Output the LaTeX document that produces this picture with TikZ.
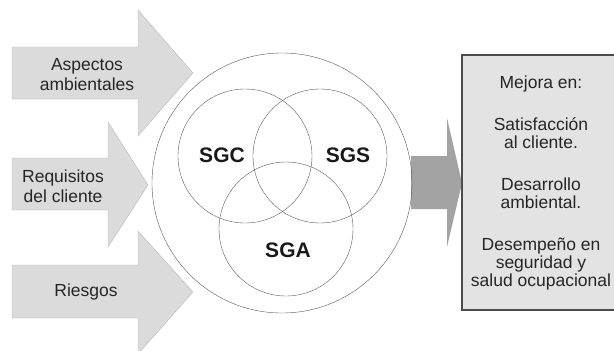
\documentclass[tikz,border=0pt]{standalone}
\usepackage{fontspec}
\setmainfont{Liberation Sans}
\begin{document}
\begin{tikzpicture}[x=1pt,y=-1pt,semithick]
\tikzstyle{input}=[fill=black!14,draw=black!28,thin]
\tikzstyle{inlabel}=[align=center,inner sep=0pt,text=black!85,font=\fontsize{17.5}{20}\selectfont]
\tikzstyle{venn}=[circle,draw=black!65,thin,inner sep=0pt,minimum size=134pt]
\tikzstyle{system}=[inner sep=0pt,text=black!90,font=\fontsize{21}{24}\selectfont\bfseries]
\tikzstyle{output}=[fill=black!36,draw=none]
\tikzstyle{result}=[rectangle,fill=black!11,draw=black!70,line width=1.2pt,minimum width=158pt,minimum height=255pt,align=center,text=black!85,font=\fontsize{17.5}{18}\selectfont]
\useasboundingbox (0,0) rectangle (614,351);
% input arrows
\filldraw[input] (12,47) -- (138,47) -- (138,10) -- (193,73) -- (138,136) -- (138,99) -- (12,99) -- cycle;
\filldraw[input] (12,158) -- (108,158) -- (108,122) -- (148,185) -- (108,247) -- (108,210) -- (12,210) -- cycle;
\filldraw[input] (12,265) -- (138,265) -- (138,231) -- (193,292) -- (138,354) -- (138,318) -- (12,318) -- cycle;
\node[inlabel] (asp) at (87,75) {Aspectos\\ambientales};
\node[inlabel] (req) at (63,186) {Requisitos\\del cliente};
\node[inlabel] (rie) at (86,292) {Riesgos};
% output arrow, under the outer circle
\filldraw[output] (411,156) -- (447,156) -- (447,118) -- (462,183) -- (447,247) -- (447,209) -- (411,209) -- cycle;
% management systems
\node[venn,minimum size=260pt] (sig) at (282,183) {};
\node[venn] (sgc) at (245,156) {};
\node[venn] (sgs) at (320,156) {};
\node[venn] (sga) at (286,229) {};
\node[system] (lsgc) at (222,155) {SGC};
\node[system] (lsgs) at (348,155) {SGS};
\node[system] (lsga) at (288,250) {SGA};
\node[result] (mejora) at (541,182.5) {Mejora en:\\[24pt]Satisfacción\\al cliente.\\[24pt]Desarrollo\\ambiental.\\[24pt]Desempeño en\\seguridad y\\salud ocupacional};
\end{tikzpicture}
\end{document}
